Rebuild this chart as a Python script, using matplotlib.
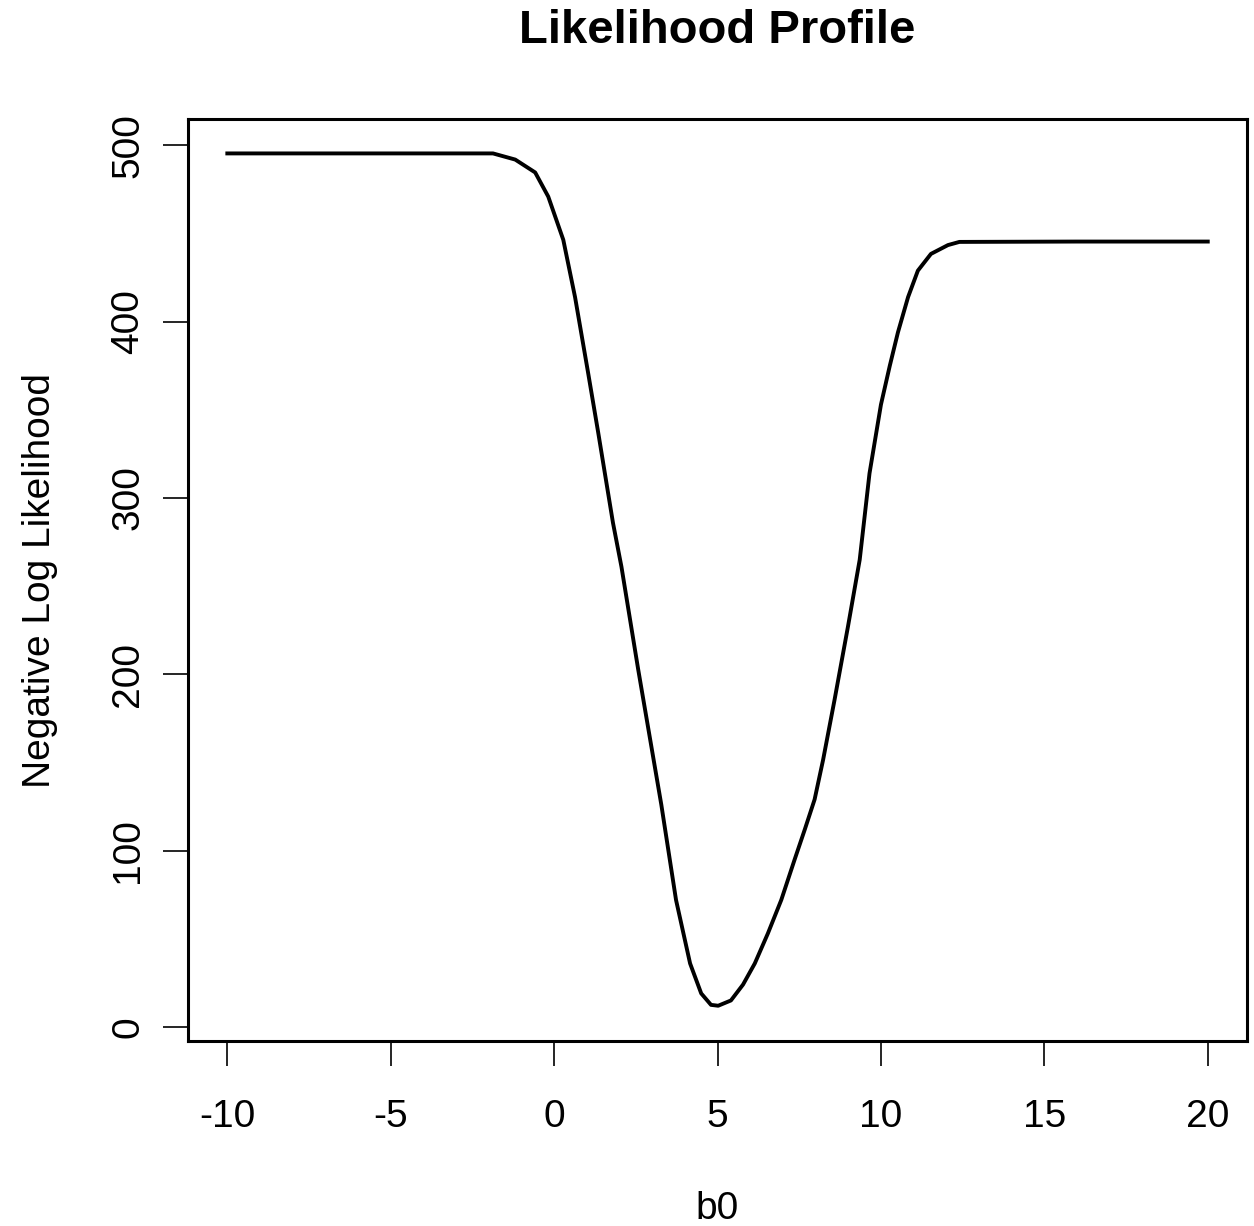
import matplotlib.pyplot as plt

plt.rcParams['font.family'] = ['Liberation Sans', 'DejaVu Sans']

# profile of the negative log likelihood over b0
b0 = [-10.0, -6.0, -1.87, -1.19, -0.58, -0.18, 0.28, 0.64, 1.04, 1.35, 1.80,
      2.06, 2.57, 3.28, 3.73, 4.16, 4.50, 4.80, 5.02, 5.41, 5.78, 6.14, 6.54,
      6.95, 7.36, 7.67, 7.97, 8.23, 8.58, 8.99, 9.35, 9.65, 10.0, 10.27,
      10.52, 10.83, 11.13, 11.53, 12.05, 12.4, 16.0, 20.0]
nll = [495.5, 495.5, 495.5, 492.0, 484.7, 471.0, 446.5, 414.0, 371.0, 337.0,
       286.0, 261.0, 203.0, 126.0, 72.0, 36.0, 19.0, 12.5, 12.0, 15.0, 24.0,
       36.0, 53.0, 72.0, 95.0, 112.0, 129.0, 151.5, 185.5, 227.0, 265.0,
       314.0, 353.0, 375.0, 394.0, 414.0, 429.0, 438.5, 443.5, 445.3, 445.5,
       445.5]

xticks = [-10, -5, 0, 5, 10, 15, 20]
yticks = [0, 100, 200, 300, 400, 500]

fig = plt.figure(figsize=(12.54, 12.26), dpi=100)
ax = fig.add_axes([0.15, 0.1509, 0.8444, 0.752])

ax.plot(b0, nll, color='black', linewidth=2.8, solid_joinstyle='round')

ax.set_xlim(-11.2, 21.2)
ax.set_ylim(-8, 515)
ax.set_xticks(xticks)
ax.set_yticks(yticks)
ax.set_xticklabels([str(t) for t in xticks])
ax.set_yticklabels([str(t) for t in yticks], rotation=90, va='center')

ax.tick_params(direction='out', length=18, width=1.2, labelsize=28, pad=24)
ax.tick_params(axis='y', pad=12)
for s in ax.spines.values():
    s.set_linewidth(2.2)

ax.set_xlabel('b0', fontsize=28, labelpad=40)
ax.set_ylabel('Negative Log Likelihood', fontsize=28, labelpad=38)
fig.text(0.5722, 0.975, 'Likelihood Profile', fontsize=34, fontweight='bold',
         ha='center', va='center')

fig.savefig('out.png', dpi=100)
